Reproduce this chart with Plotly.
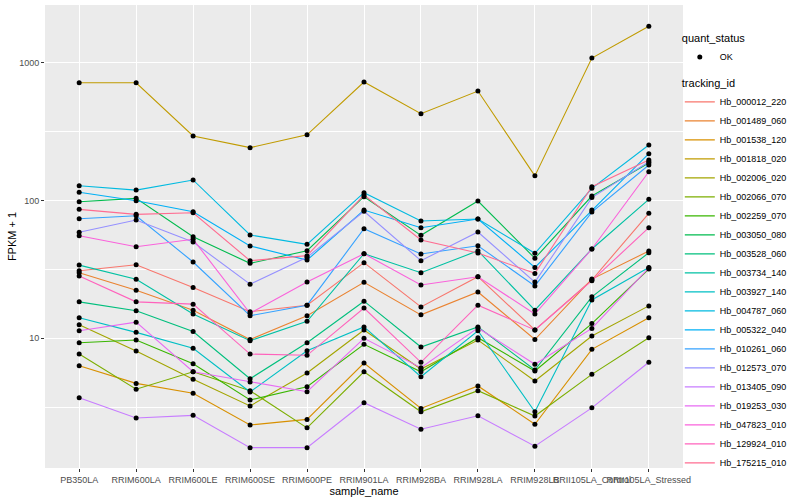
import plotly.graph_objects as go

samples = ["PB350LA", "RRIM600LA", "RRIM600LE", "RRIM600SE", "RRIM600PE", "RRIM901LA",
           "RRIM928BA", "RRIM928LA", "RRIM928LB", "RRII105LA_Control", "RRII105LA_Stressed"]

hb_000012_220 = [30.9, 34.2, 23.4, 15.6, 17.4, 35.4, 16.9, 28.0, 11.5, 26.5, 80.8]
hb_001489_060 = [29.9, 22.3, 16.0, 9.8, 14.6, 25.5, 14.8, 21.7, 9.8, 26.9, 43.0]
hb_001538_120 = [6.33, 4.71, 3.99, 2.35, 2.58, 6.62, 3.10, 4.51, 2.38, 8.32, 14.1]
hb_001818_020 = [716, 716, 294, 242, 300, 725, 427, 623, 151, 1081, 1837]
hb_002006_020 = [12.55, 8.09, 5.04, 3.23, 5.6, 11.5, 5.99, 9.72, 4.9, 10.4, 17.2]
hb_002066_070 = [7.69, 4.27, 5.72, 4.17, 2.24, 5.72, 2.93, 4.17, 2.73, 5.48, 10.1]
hb_002259_070 = [9.29, 9.72, 6.54, 3.57, 4.45, 9.05, 5.72, 10.1, 5.79, 12.8, 31.8]
hb_003050_080 = [98.0, 103.7, 54.6, 35.0, 43.2, 106.6, 55.9, 99.2, 38.1, 107.8, 187]
hb_003528_060 = [18.4, 15.85, 11.2, 5.09, 9.29, 18.6, 8.65, 12.1, 5.89, 20.0, 41.8]
hb_003734_140 = [34.0, 26.8, 15.0, 9.6, 13.3, 41.1, 29.9, 43.2, 16.0, 44.5, 102]
hb_003927_140 = [14.1, 11.05, 8.46, 4.08, 8.13, 12.1, 5.26, 11.35, 2.93, 18.97, 32.7]
hb_004787_060 = [127.9, 119, 141, 56.2, 48.1, 114, 71.0, 73.5, 41.4, 122.7, 253]
hb_005322_040 = [114.7, 99.7, 83.0, 46.8, 37.0, 85.3, 63.5, 73.5, 32.7, 85.3, 218.6]
hb_010261_060 = [73.8, 77.6, 35.8, 14.6, 17.4, 62.4, 40.9, 47.0, 24.0, 82.5, 181]
hb_012573_070 = [58.8, 72.2, 50.0, 24.7, 38.7, 83.5, 36.6, 59.1, 25.6, 105, 191]
hb_013405_090 = [3.71, 2.64, 2.76, 1.61, 1.61, 3.41, 2.19, 2.74, 1.65, 3.13, 6.70]
hb_019253_030 = [11.35, 13.1, 5.72, 4.82, 4.10, 10.0, 6.12, 11.9, 6.48, 11.8, 32.4]
hb_047823_010 = [55.5, 46.2, 52.3, 15.2, 25.6, 41.1, 24.4, 28.0, 15.0, 44.5, 161.8]
hb_129924_010 = [28.3, 18.4, 17.7, 7.69, 7.53, 16.6, 6.7, 17.4, 11.5, 26.2, 63.5]
hb_175215_010 = [86.3, 79.4, 81.5, 36.6, 39.8, 109.6, 51.7, 41.6, 29.6, 126, 196.8]

tracking_ids = ["Hb_000012_220", "Hb_001489_060", "Hb_001538_120", "Hb_001818_020", "Hb_002006_020",
                "Hb_002066_070", "Hb_002259_070", "Hb_003050_080", "Hb_003528_060", "Hb_003734_140",
                "Hb_003927_140", "Hb_004787_060", "Hb_005322_040", "Hb_010261_060", "Hb_012573_070",
                "Hb_013405_090", "Hb_019253_030", "Hb_047823_010", "Hb_129924_010", "Hb_175215_010"]
series = [hb_000012_220, hb_001489_060, hb_001538_120, hb_001818_020, hb_002006_020,
          hb_002066_070, hb_002259_070, hb_003050_080, hb_003528_060, hb_003734_140,
          hb_003927_140, hb_004787_060, hb_005322_040, hb_010261_060, hb_012573_070,
          hb_013405_090, hb_019253_030, hb_047823_010, hb_129924_010, hb_175215_010]
colors = ["#F8766D", "#EA8331", "#D89000", "#C09B00", "#A3A500", "#7CAE00", "#39B600", "#00BB4E",
          "#00BF7D", "#00C1A3", "#00BFC4", "#00BAE0", "#00B0F6", "#35A2FF", "#9590FF", "#C77CFF",
          "#E76BF3", "#FA62DB", "#FF62BC", "#FF6C91"]

FONT = "Liberation Sans, Arial, sans-serif"

fig = go.Figure()
for name, vals, col in zip(tracking_ids, series, colors):
    fig.add_trace(go.Scatter(x=samples, y=vals, mode="lines", name=name,
                             line=dict(color=col, width=1.1), legend="legend2"))
for i, (name, vals) in enumerate(zip(tracking_ids, series)):
    fig.add_trace(go.Scatter(x=samples, y=vals, mode="markers", name="OK",
                             marker=dict(color="black", size=5),
                             legendgroup="OK", showlegend=(i == 0), legend="legend"))

fig.update_layout(
    width=800, height=500,
    paper_bgcolor="white", plot_bgcolor="#EBEBEB",
    margin=dict(l=45, r=117, t=5, b=32),
    font=dict(family=FONT, color="black"),
    showlegend=True,
    legend=dict(title=dict(text="quant_status", font=dict(size=11)), font=dict(size=9),
                x=0.995, y=0.95, xanchor="left", yanchor="top", itemwidth=30,
                bgcolor="rgba(0,0,0,0)", tracegroupgap=0),
    legend2=dict(title=dict(text="tracking_id", font=dict(size=11)), font=dict(size=9),
                 x=0.995, y=0.853, xanchor="left", yanchor="top", itemwidth=30,
                 bgcolor="rgba(0,0,0,0)", tracegroupgap=0),
)
fig.update_xaxes(type="category", range=[-0.6, 10.6], showgrid=True, gridcolor="white",
                 gridwidth=1.1, ticks="outside", ticklen=3, tickcolor="#333333", tickangle=0,
                 tickfont=dict(size=9, color="#4D4D4D"), zeroline=False, showline=False,
                 automargin=False,
                 title=dict(text="sample_name", font=dict(size=11), standoff=0))
fig.update_yaxes(type="log", range=[0.059, 3.419], tickvals=[10, 100, 1000],
                 ticktext=["10", "100", "1000"], showgrid=True, gridcolor="white", gridwidth=1.1,
                 minor=dict(tickvals=[3.1623, 31.623, 316.23], showgrid=True, gridcolor="white",
                            gridwidth=0.55, ticklen=0),
                 ticks="outside", ticklen=3, tickcolor="#333333", automargin=False,
                 tickfont=dict(size=9, color="#4D4D4D"), zeroline=False, showline=False,
                 title=dict(text="FPKM + 1", font=dict(size=11), standoff=0))

fig.write_html("out.html", config={"displayModeBar": False},
               post_script="document.body.style.margin='0px';")
